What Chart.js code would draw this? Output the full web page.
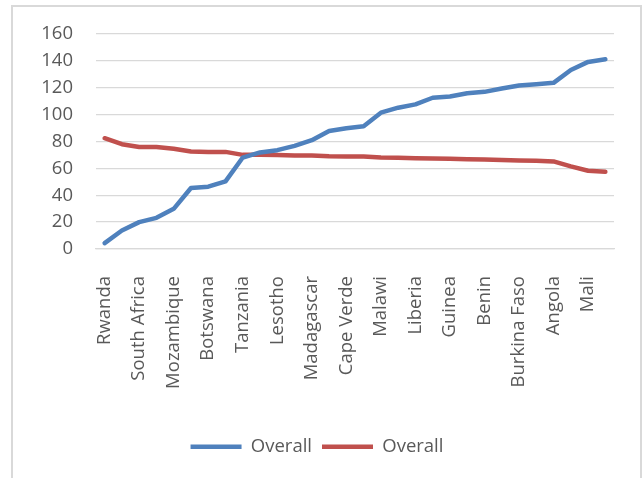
<!DOCTYPE html>
<html>
<head>
<meta charset="utf-8">
<script src="https://cdn.jsdelivr.net/npm/chart.js@4/dist/chart.umd.min.js"></script>
<style>
  html, body { margin: 0; padding: 0; background: #ffffff; }
  #wrap { position: relative; width: 642px; height: 478px; overflow: hidden; }
  #frame { position: absolute; left: 11px; top: 5px; width: 631px; height: 520px; box-sizing: border-box; border: 2px solid #d9d9d9; }
  #c { position: absolute; left: 0; top: 0; }
</style>
</head>
<body>
<div id="wrap">
  <div id="frame"></div>
  <canvas id="c" width="642" height="478"></canvas>
</div>
<script>
// Categories: only every other name is readable on the axis; unreadable ones left blank
const categories = ['Rwanda','','South Africa','','Mozambique','','Botswana','','Tanzania','',
  'Lesotho','','Madagascar','','Cape Verde','','Malawi','','Liberia','',
  'Guinea','','Benin','','Burkina Faso','','Angola','','Mali',''];
const seriesBlueName = 'Overall';
const seriesBlue = [4.4,13.8,20,23.2,29.9,45.4,46.4,50.4,68.1,71.9,73.6,76.8,81,87.9,89.9,
  91.4,101.5,105.2,107.7,112.6,113.6,116,117,119.5,121.7,122.7,123.7,133.3,139.3,141.2];
const seriesRedName = 'Overall';
const seriesRed = [82.5,78,76,76,74.6,72.6,72.3,72.3,70.1,70.1,69.9,69.6,69.6,69.1,68.9,
  68.8,68.1,68,67.6,67.4,67.2,66.9,66.7,66.2,65.9,65.7,65.2,61.5,58.3,57.5];
const yTicks = [0,20,40,60,80,100,120,140,160];

const FONT = "'Open Sans', 'DejaVu Sans', sans-serif";
const TXT = '#595959';

new Chart(document.getElementById('c'), {
  type: 'line',
  data: {
    labels: categories,
    datasets: [
      { label: seriesBlueName, data: seriesBlue, borderColor: '#4F81BD', backgroundColor: '#4F81BD',
        borderWidth: 4.5, pointRadius: 0, tension: 0, borderCapStyle: 'round', borderJoinStyle: 'round' },
      { label: seriesRedName, data: seriesRed, borderColor: '#C0504D', backgroundColor: '#C0504D',
        borderWidth: 4.5, pointRadius: 0, tension: 0, borderCapStyle: 'round', borderJoinStyle: 'round' }
    ]
  },
  options: {
    responsive: false,
    animation: false,
    layout: { padding: { left: 20, right: 28, top: 33, bottom: 12 } },
    plugins: {
      tooltip: { enabled: false },
      legend: {
        position: 'bottom',
        labels: {
          usePointStyle: true, pointStyle: 'line', pointStyleWidth: 51,
          font: { family: FONT, size: 18.5 }, color: TXT, padding: 10
        }
      }
    },
    scales: {
      x: {
        offset: true,
        grid: { display: false, drawTicks: false },
        border: { display: true, color: '#d9d9d9', width: 1.3 },
        ticks: {
          autoSkip: false, minRotation: 90, maxRotation: 90, padding: 27,
          font: { family: FONT, size: 18.5 }, color: TXT
        },
        afterFit: (s) => { s.height = 178.5; s.paddingLeft = 0; s.paddingRight = 0; }
      },
      y: {
        min: 0, max: 160,
        afterBuildTicks: (s) => { s.ticks = yTicks.map(v => ({ value: v })); },
        grid: { color: '#d9d9d9', lineWidth: 1.3, drawTicks: false },
        border: { display: false },
        ticks: { padding: 23, font: { family: FONT, size: 18.5 }, color: TXT },
        afterFit: (s) => { s.width = 76; }
      }
    }
  }
});
</script>
</body>
</html>
